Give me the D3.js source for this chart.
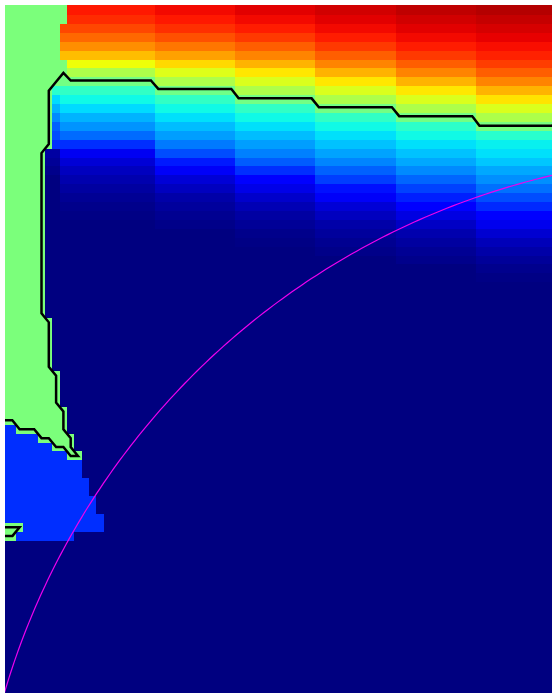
<!DOCTYPE html>
<html>
<head>
<meta charset="utf-8">
<script src="https://cdn.jsdelivr.net/npm/d3@7"></script>
<style>
  html, body { margin: 0; padding: 0; background: #fff; }
  svg { display: block; }
</style>
</head>
<body>
<svg id="chart" width="552" height="693"></svg>
<script>
// Grid size (columns x rows of the field)
const nCols = 76, nRows = 78;

// Column spans that share one vertical profile
const bandSpans = [[0, 7], [8, 20], [21, 31], [32, 42], [43, 53], [54, 64], [65, 75]];

// Vertical profiles (colormap value 0..1), top row first; missing rows are 0
const bandEdge = [0.885, 0.865, 0.835, 0.8, 0.76, 0.71, 0.64, 0.56, 0.5, 0.4, 0.34, 0.3, 0.26, 0.22, 0.2, 0.17, 0.03, 0.02, 0.01];
const band5 = [0.885, 0.865, 0.835, 0.8, 0.76, 0.71, 0.64, 0.56, 0.49, 0.41, 0.37, 0.34, 0.3, 0.27, 0.23, 0.17, 0.1, 0.075, 0.055, 0.04, 0.028, 0.018, 0.01, 0.005];
const band4 = [0.9, 0.885, 0.86, 0.825, 0.785, 0.74, 0.68, 0.62, 0.56, 0.485, 0.41, 0.37, 0.345, 0.31, 0.28, 0.245, 0.2, 0.15, 0.105, 0.075, 0.055, 0.035, 0.025, 0.015, 0.008];
const band3 = [0.915, 0.9, 0.88, 0.85, 0.81, 0.77, 0.72, 0.665, 0.615, 0.56, 0.49, 0.41, 0.37, 0.345, 0.31, 0.28, 0.25, 0.215, 0.17, 0.12, 0.09, 0.065, 0.045, 0.03, 0.02, 0.01, 0.005];
const band2 = [0.93, 0.915, 0.9, 0.88, 0.85, 0.81, 0.77, 0.72, 0.665, 0.615, 0.56, 0.49, 0.41, 0.37, 0.345, 0.315, 0.285, 0.255, 0.22, 0.185, 0.14, 0.105, 0.075, 0.055, 0.035, 0.025, 0.015, 0.008];
const band1 = [0.945, 0.93, 0.915, 0.9, 0.88, 0.85, 0.81, 0.77, 0.72, 0.665, 0.615, 0.56, 0.49, 0.405, 0.37, 0.345, 0.315, 0.29, 0.26, 0.225, 0.19, 0.155, 0.115, 0.085, 0.06, 0.04, 0.028, 0.018, 0.01];
const band0 = [0.955, 0.94, 0.925, 0.91, 0.895, 0.875, 0.845, 0.81, 0.77, 0.72, 0.67, 0.615, 0.56, 0.495, 0.4, 0.36, 0.345, 0.32, 0.29, 0.265, 0.235, 0.2, 0.165, 0.125, 0.095, 0.07, 0.05, 0.035, 0.022, 0.012, 0.005];
const bandProfiles = [bandEdge, band5, band4, band3, band2, band1, band0];

// Constant-valued patches: [firstRow, lastRow, firstCol, lastCol]
const greenValue = 0.5;
const greenPatches = [
  [0, 1, 0, 8], [2, 5, 0, 7], [6, 7, 0, 8], [8, 8, 0, 7], [9, 15, 0, 6],
  [16, 34, 0, 5], [35, 40, 0, 6], [41, 44, 0, 7], [45, 46, 0, 8], [47, 47, 2, 8],
  [48, 48, 5, 9], [49, 49, 7, 9], [50, 50, 9, 10], [58, 58, 0, 2], [59, 59, 0, 1]
];
const blueValue = 0.17;
const bluePatches = [
  [47, 47, 0, 1], [48, 48, 0, 4], [49, 49, 0, 6], [50, 50, 0, 8], [51, 52, 0, 10],
  [53, 54, 0, 11], [55, 56, 0, 12], [57, 57, 0, 13], [58, 58, 3, 13], [59, 59, 2, 9]
];

// Iso-line level
const contourLevel = 0.5;

// Elliptical arc in grid units: centre (column, row) and radii (columns, rows)
const arcCenter = [98.75, 100.8];
const arcRadius = [102.5, 84.0];

// ---- field ----
const values = new Float64Array(nCols * nRows);
for (let r = 0; r < nRows; r++) {
  for (let c = 0; c < nCols; c++) {
    const b = bandSpans.findIndex(([a, z]) => c >= a && c <= z);
    const v = bandProfiles[b][r];
    values[r * nCols + c] = v === undefined ? 0 : v;
  }
}
function applyPatches(list, v) {
  list.forEach(([r0, r1, c0, c1]) => {
    for (let r = r0; r <= r1; r++) for (let c = c0; c <= c1; c++) values[r * nCols + c] = v;
  });
}
applyPatches(greenPatches, greenValue);
applyPatches(bluePatches, blueValue);

// ---- jet colormap built from linear scales ----
const jetR = d3.scaleLinear().domain([0, 0.35, 0.66, 0.89, 1]).range([0, 0, 1, 1, 0.5]).clamp(true);
const jetG = d3.scaleLinear().domain([0, 0.125, 0.375, 0.64, 0.91, 1]).range([0, 0, 1, 1, 0, 0]).clamp(true);
const jetB = d3.scaleLinear().domain([0, 0.11, 0.34, 0.65, 1]).range([0.5, 1, 1, 0, 0]).clamp(true);
const jet = v => d3.rgb(255 * jetR(v), 255 * jetG(v), 255 * jetB(v)).formatHex();

// ---- layout ----
const svg = d3.select("#chart");
const plot = { left: 5, top: 5, right: 552, bottom: 693 };
const x = d3.scaleLinear().domain([0, nCols]).range([1.35, 1.35 + nCols * 7.3]);
const y = d3.scaleLinear().domain([0, nRows]).range([6.09, 6.09 + nRows * 8.908]);

svg.append("defs").append("clipPath").attr("id", "plotClip")
  .append("rect")
  .attr("x", plot.left).attr("y", plot.top)
  .attr("width", plot.right - plot.left).attr("height", plot.bottom - plot.top);

const g = svg.append("g").attr("clip-path", "url(#plotClip)");

// cells
const cells = [];
for (let r = 0; r < nRows; r++) for (let c = 0; c < nCols; c++) cells.push({ r, c, v: values[r * nCols + c] });
// first row is extended upward so the grid reaches the plot's top edge
g.append("g").attr("shape-rendering", "crispEdges")
  .selectAll("rect").data(cells).join("rect")
  .attr("x", d => x(d.c))
  .attr("y", d => d.r === 0 ? y(-1) : y(d.r))
  .attr("width", d => x(d.c + 1) - x(d.c) + 0.3)
  .attr("height", d => (d.r === 0 ? y(1) - y(-1) : y(d.r + 1) - y(d.r)) + 0.3)
  .attr("fill", d => jet(d.v));

// contour (grid padded with a copy of the first row on top)
const padded = new Float64Array(nCols * (nRows + 1));
padded.set(values.subarray(0, nCols), 0);
padded.set(values, nCols);
const contours = d3.contours().size([nCols, nRows + 1]).thresholds([contourLevel])(Array.from(padded));
const toPixels = d3.geoTransform({
  point(px, py) { this.stream.point(x(px), y(py - 1)); }
});
g.append("g").selectAll("path").data(contours).join("path")
  .attr("d", d3.geoPath(toPixels))
  .attr("fill", "none")
  .attr("stroke", "#000")
  .attr("stroke-width", 2.5)
  .attr("stroke-linejoin", "miter");

// arc
const arcPts = d3.range(0, 201).map(i => {
  const t = Math.PI + (Math.PI / 2) * (i / 200);
  return [arcCenter[0] + arcRadius[0] * Math.cos(t), arcCenter[1] + arcRadius[1] * Math.sin(t)];
});
g.append("path")
  .attr("d", d3.line().x(d => x(d[0])).y(d => y(d[1]))(arcPts))
  .attr("fill", "none")
  .attr("stroke", "#ee00ee")
  .attr("stroke-width", 1.2);
</script>
</body>
</html>
